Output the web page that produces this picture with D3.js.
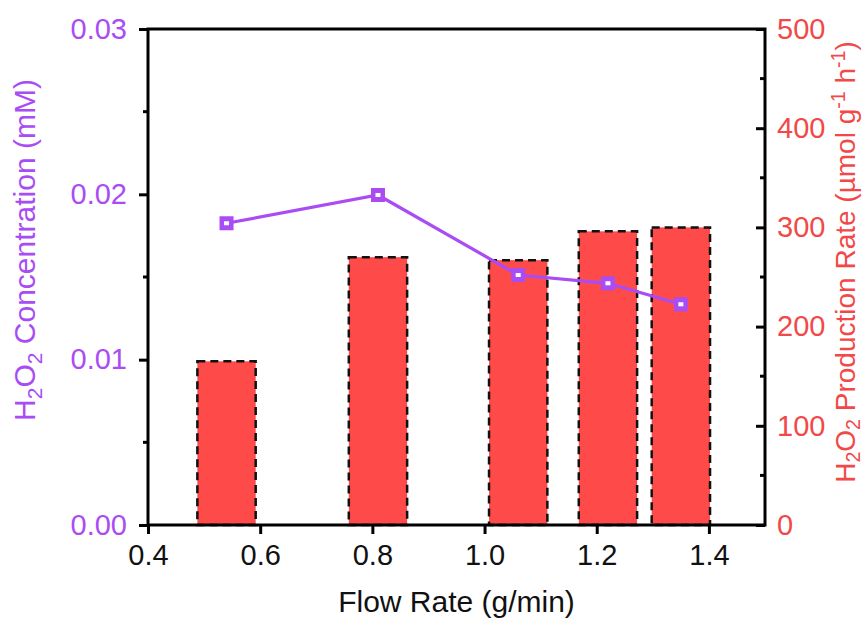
<!DOCTYPE html>
<html><head><meta charset="utf-8">
<script src="https://cdn.jsdelivr.net/npm/d3@7"></script>
<style>body{margin:0;background:#fff}svg{display:block}text{font-family:"Liberation Sans",Arial,sans-serif}</style>
</head><body>
<svg id="c" width="867" height="621"></svg>
<script>
const flowRates = [0.54, 0.81, 1.06, 1.22, 1.35];
const productionRate = [165, 270, 267, 296, 300];
const concentration = [0.01825, 0.01996, 0.01512, 0.01462, 0.01335];
const xTicks = [0.4, 0.6, 0.8, 1.0, 1.2, 1.4];
const yLeftTicks = [0, 0.01, 0.02, 0.03];
const yLeftMinor = [0.005, 0.015, 0.025];
const yRightTicks = [0, 100, 200, 300, 400, 500];
const yRightMinor = [50, 150, 250, 350, 450];

const purple = "#a94cf4", red = "#ff4a4a", redText = "#f24848";
const L = 148, R = 765, T = 29, B = 525;
const svg = d3.select("#c");
const x = d3.scaleLinear().domain([0.4, 1.5]).range([L, R]);
const yL = d3.scaleLinear().domain([0, 0.03]).range([B, T]);
const yR = d3.scaleLinear().domain([0, 500]).range([B, T]);
const barW = 0.104;
const fs = 29, tfs = 30;
const FF = "Liberation Sans, Arial, sans-serif";

// bars
svg.append("g").selectAll("rect").data(flowRates).join("rect")
  .attr("x", d => x(d - barW/2)).attr("width", d => x(d + barW/2) - x(d - barW/2))
  .attr("y", (d,i) => yR(productionRate[i])).attr("height", (d,i) => B - yR(productionRate[i]))
  .attr("fill", red).attr("stroke", "#111").attr("stroke-width", 2.5).attr("stroke-dasharray", "8,5");

// line
svg.append("path").datum(flowRates.map((d,i)=>[d, concentration[i]]))
  .attr("d", d3.line().x(d=>x(d[0])).y(d=>yL(d[1])))
  .attr("fill","none").attr("stroke",purple).attr("stroke-width",3.2);
const mk = svg.append("g").selectAll("g").data(flowRates).join("g")
  .attr("transform",(d,i)=>`translate(${x(d)},${yL(concentration[i])})`);
mk.append("rect").attr("x",-7).attr("y",-7).attr("width",14).attr("height",14).attr("fill",purple);
mk.append("rect").attr("x",-2.5).attr("y",-2).attr("width",5).attr("height",4).attr("fill","#fff");

// frame
svg.append("rect").attr("x",L).attr("y",T).attr("width",R-L).attr("height",B-T)
  .attr("fill","none").attr("stroke","#000").attr("stroke-width",3);

// bottom axis
const gx = svg.append("g").attr("transform",`translate(0,${B})`)
  .call(d3.axisBottom(x).tickValues(xTicks).tickFormat(d3.format(".1f")).tickSize(9).tickPadding(10));
gx.select(".domain").remove();
gx.selectAll("line").attr("stroke","#000").attr("stroke-width",3);
gx.selectAll("text").attr("font-size",fs).attr("fill","#111").attr("font-family",FF);

// left axis
const gl = svg.append("g").attr("transform",`translate(${L},0)`)
  .call(d3.axisLeft(yL).tickValues(yLeftTicks).tickFormat(d3.format(".2f")).tickSize(9).tickPadding(12));
gl.select(".domain").remove();
gl.selectAll("line").attr("stroke","#000").attr("stroke-width",3);
gl.selectAll("text").attr("font-size",fs).attr("fill",purple).attr("font-family",FF);
svg.append("g").selectAll("line").data(yLeftMinor).join("line")
  .attr("x1",L-5).attr("x2",L).attr("y1",d=>yL(d)).attr("y2",d=>yL(d)).attr("stroke","#000").attr("stroke-width",3);

// right axis (ticks inward)
const gr = svg.append("g").attr("transform",`translate(${R},0)`)
  .call(d3.axisRight(yR).tickValues(yRightTicks).tickSizeInner(-9).tickSizeOuter(0).tickPadding(12));
gr.select(".domain").remove();
gr.selectAll("line").attr("stroke","#000").attr("stroke-width",3);
gr.selectAll("text").attr("font-size",fs).attr("fill",redText).attr("x",12).attr("font-family",FF);
svg.append("g").selectAll("line").data(yRightMinor).join("line")
  .attr("x1",R-5).attr("x2",R).attr("y1",d=>yR(d)).attr("y2",d=>yR(d)).attr("stroke","#000").attr("stroke-width",3);

// titles
svg.append("text").attr("x",(L+R)/2).attr("y",612).attr("text-anchor","middle")
  .attr("font-size",tfs).attr("fill","#111").attr("font-family",FF).text("Flow Rate (g/min)");

const lt = svg.append("text").attr("transform",`translate(35,250) rotate(-90)`)
  .attr("text-anchor","middle").attr("font-size",tfs).attr("fill",purple).attr("font-family",FF);
const s1 = tfs*0.7;
lt.append("tspan").text("H");
lt.append("tspan").attr("font-size",s1).attr("dy",7).text("2");
lt.append("tspan").attr("dy",-7).text("O");
lt.append("tspan").attr("font-size",s1).attr("dy",7).text("2");
lt.append("tspan").attr("dy",-7).text(" Concentration (mM)");

const rfs = 28;
const rt = svg.append("text").attr("transform",`translate(855,262) rotate(-90)`)
  .attr("text-anchor","middle").attr("font-size",rfs).attr("fill",redText).attr("font-family",FF);
const sub = rfs*0.7;
rt.append("tspan").text("H");
rt.append("tspan").attr("font-size",sub).attr("dy",5).text("2");
rt.append("tspan").attr("dy",-5).text("O");
rt.append("tspan").attr("font-size",sub).attr("dy",5).text("2");
rt.append("tspan").attr("dy",-5).text(" Production Rate (µmol g");
rt.append("tspan").attr("font-size",sub).attr("dy",-10).text("-1");
rt.append("tspan").attr("dy",10).text(" h");
rt.append("tspan").attr("font-size",sub).attr("dy",-10).text("-1");
rt.append("tspan").attr("dy",10).text(")");
</script>
</body></html>
